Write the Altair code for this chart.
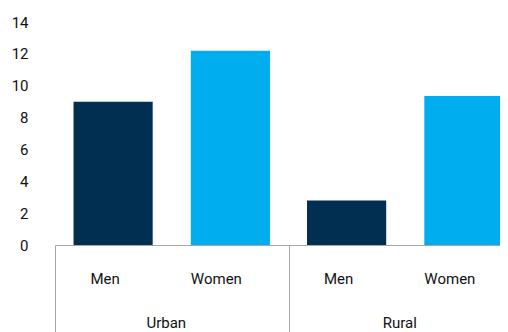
import altair as alt
import pandas as pd

areas = ["Urban", "Urban", "Rural", "Rural"]
sexes = ["Men", "Women", "Men", "Women"]
values = [9.0, 12.2, 2.8, 9.35]

df = pd.DataFrame({"area": areas, "sex": sexes, "value": values})

FONT = "Roboto"
TXT = "#111111"
GREY = "#A6A6A6"

x_enc = alt.X(
    "area:N",
    sort=["Urban", "Rural"],
    scale=alt.Scale(domain=["Urban", "Rural"], range=[0, 467], paddingInner=0, paddingOuter=0),
    axis=alt.Axis(
        title=None, labelAngle=0, labelFontSize=15, labelColor=TXT, labelFont=FONT,
        domainColor=GREY, tickColor=GREY, tickSize=100, tickBand="extent",
        labelPadding=-30, labelOffset=-6,
    ),
)
xo_enc = alt.XOffset(
    "sex:N",
    scale=alt.Scale(domain=["Men", "Women"], paddingInner=0.325, paddingOuter=0.158),
)

bars = alt.Chart(df).mark_bar().encode(
    x=x_enc,
    xOffset=xo_enc,
    y=alt.Y(
        "value:Q",
        scale=alt.Scale(domain=[0, 14], nice=False),
        axis=alt.Axis(
            title=None, values=[0, 2, 4, 6, 8, 10, 12, 14], grid=False, domain=False,
            ticks=False, labelPadding=27, labelFontSize=15, labelColor=TXT, labelFont=FONT,
        ),
    ),
    color=alt.Color(
        "sex:N",
        scale=alt.Scale(domain=["Men", "Women"], range=["#002F52", "#00AEEF"]),
        legend=None,
    ),
)

def sex_labels(sex, dx):
    return alt.Chart(df).transform_filter(alt.datum.sex == sex).mark_text(
        fontSize=15, color=TXT, font=FONT, baseline="middle", dx=dx
    ).encode(
        x=x_enc,
        xOffset=xo_enc,
        y=alt.value(257),
        text="sex:N",
    )

chart = (
    alt.layer(bars, sex_labels("Men", -8), sex_labels("Women", -14))
    .properties(
        width=445,
        height=223,
        autosize=alt.AutoSizeParams(type="none"),
        padding={"left": 47, "top": 14, "right": 0, "bottom": 95},
    )
    .configure_view(stroke=None)
)

chart.save("out.html", embed_options={"renderer": "svg", "actions": False})
